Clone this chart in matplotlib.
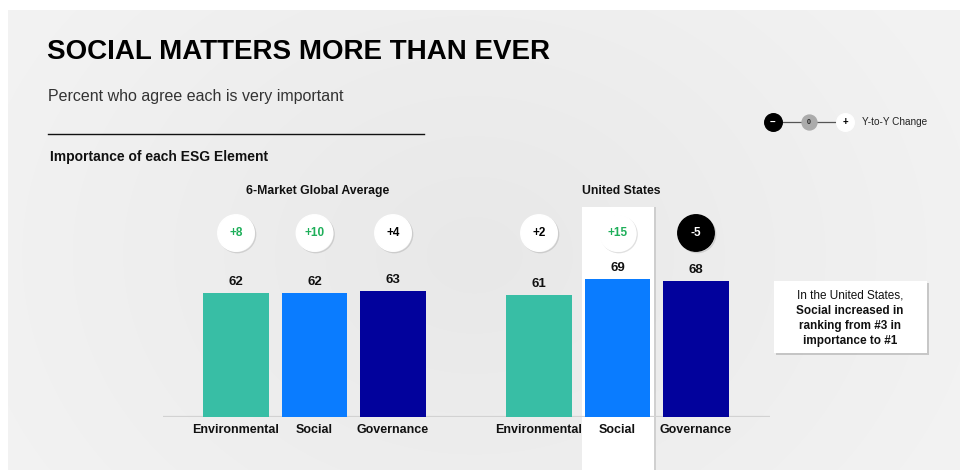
import numpy as np
import matplotlib
matplotlib.use("Agg")
import matplotlib.pyplot as plt
import matplotlib.patches as mpatches
import matplotlib.patheffects as pe

plt.rcParams['font.family'] = ['Liberation Sans', 'DejaVu Sans']

# ---------------- data ----------------
categories = ["Environmental", "Social", "Governance"]
global_values = [62, 62, 63]
us_values = [61, 69, 68]
global_change = [8, 10, 4]
us_change = [2, 15, -5]
global_significant = [True, True, False]
us_significant = [False, True, True]
group_titles = ["6-Market Global Average", "United States"]

bar_colors = ["#38BEA5", "#0A7CFF", "#02029C"]
green = "#1FAF5A"

W, H = 960, 470
fig = plt.figure(figsize=(W / 100, H / 100), dpi=100)

# ---------------- background ----------------
bg = fig.add_axes([0, 0, 1, 1])
bg.set_xlim(0, W)
bg.set_ylim(H, 0)
bg.axis("off")
yy, xx = np.mgrid[0:H, 0:W]
r = np.sqrt(((xx - 470) / 520.0) ** 2 + ((yy - 250) / 420.0) ** 2)
shade = 0.91 + 0.04 * np.clip(r, 0, 1)
img = np.dstack([shade, shade, shade])
bg.imshow(img, extent=(8, W, H, 10), zorder=0, aspect="auto")

def fy(ypx):
    return 1 - ypx / H

def fx(xpx):
    return xpx / W

# header texts
fig.text(fx(47), fy(52), "SOCIAL MATTERS MORE THAN EVER", fontsize=20,
         fontweight="bold", va="center", ha="left", color="#000000")
fig.text(fx(48), fy(96), "Percent who agree each is very important", fontsize=11.5,
         va="center", ha="left", color="#333333")
bg.plot([48, 424], [134, 134], color="#111111", lw=1.0, zorder=2)
fig.text(fx(50), fy(157), "Importance of each ESG Element", fontsize=10,
         fontweight="bold", va="center", ha="left", color="#111111")

# legend (top right)
bg.plot([773, 845], [122, 122], color="#555555", lw=0.9, zorder=2)
bg.scatter([773], [122], s=160, color="#000000", zorder=3)
bg.scatter([809], [122], s=115, color="#ABABAB", zorder=3)
bg.scatter([845], [122], s=160, color="#FFFFFF", zorder=3)
bg.text(773, 122, "−", color="white", fontsize=7, fontweight="bold", ha="center", va="center", zorder=4)
bg.text(809, 122.5, "0", color="#222222", fontsize=5, fontweight="bold", ha="center", va="center", zorder=4)
bg.text(845, 121.5, "+", color="#000000", fontsize=7, fontweight="bold", ha="center", va="center", zorder=4)
bg.text(862, 122, "Y-to-Y Change", fontsize=7.2, color="#222222", ha="left", va="center", zorder=4)

# annotation box
box = mpatches.Rectangle((774, 281), 153, 72, facecolor="white", edgecolor="none", zorder=3,
                         path_effects=[pe.SimplePatchShadow(offset=(1.5, -1.5), alpha=0.25), pe.Normal()])
bg.add_patch(box)
bg.text(850, 296, "In the United States,", fontsize=8.5, ha="center", va="center", zorder=4, color="#111111")
for i, line in enumerate(["Social increased in", "ranking from #3 in", "importance to #1"]):
    bg.text(850, 311 + 15 * i, line, fontsize=8.5, fontweight="bold", ha="center", va="center",
            zorder=4, color="#111111")

# ---------------- main bar axes ----------------
x_left_px, x_right_px = 163, 770
base_px, top_px = 417, 217
ax = fig.add_axes([fx(x_left_px), fy(base_px), (x_right_px - x_left_px) / W, (base_px - top_px) / H])
ax.patch.set_alpha(0)
unit = 78.5
ax.set_xlim((x_left_px - 236) / unit, (x_right_px - 236) / unit)
ax.set_ylim(0, 100)

gpos = np.array([0, 1, 2], dtype=float)
upos = gpos + 3.86
width = 0.84

# highlight panel behind US Social
hl = mpatches.Rectangle((upos[1] - 0.45, -27), 0.91, 132, facecolor="white", edgecolor="none",
                        clip_on=False, zorder=1,
                        path_effects=[pe.SimplePatchShadow(offset=(2, 0), alpha=0.18), pe.Normal()])
ax.add_patch(hl)

ax.bar(gpos, global_values, width=width, color=bar_colors, zorder=3)
ax.bar(upos, us_values, width=width, color=bar_colors, zorder=3)

ax.axhline(0, color="#D2D2D2", lw=1.6, zorder=2)

for pos, vals in [(gpos, global_values), (upos, us_values)]:
    for p, v in zip(pos, vals):
        ax.annotate(f"{v}", (p, v), xytext=(0, 3.5), textcoords="offset points",
                    ha="center", va="bottom", fontsize=9.5, fontweight="bold", color="#111111", zorder=5)

circle_y = 92
for pos, chg, sig in [(gpos, global_change, global_significant), (upos, us_change, us_significant)]:
    for p, c, s in zip(pos, chg, sig):
        if s and c < 0:
            face, tcol = "#000000", "white"
        else:
            face, tcol = "white", (green if s else "#000000")
        ax.scatter([p], [circle_y], s=690, color=face, zorder=4, clip_on=False,
                   path_effects=[pe.SimpleLineShadow(offset=(1.0, -1.0), alpha=0.12), pe.Normal()])
        ax.text(p, circle_y, f"{c:+d}", ha="center", va="center", fontsize=8.5,
                fontweight="bold", color=tcol, zorder=5, clip_on=False)

ax.text(gpos[1] + 0.04, 113, group_titles[0], ha="center", va="center", fontsize=8.8,
        fontweight="bold", color="#111111", clip_on=False)
ax.text(upos[1] + 0.05, 113, group_titles[1], ha="center", va="center", fontsize=8.8,
        fontweight="bold", color="#111111", clip_on=False)

ax.set_xticks(np.concatenate([gpos, upos]))
ax.set_xticklabels(categories + categories, fontsize=9, fontweight="bold", color="#111111")
ax.tick_params(axis="x", length=0, pad=5)
ax.set_yticks([])
for sp in ax.spines.values():
    sp.set_visible(False)

fig.savefig("out.png", dpi=100)
